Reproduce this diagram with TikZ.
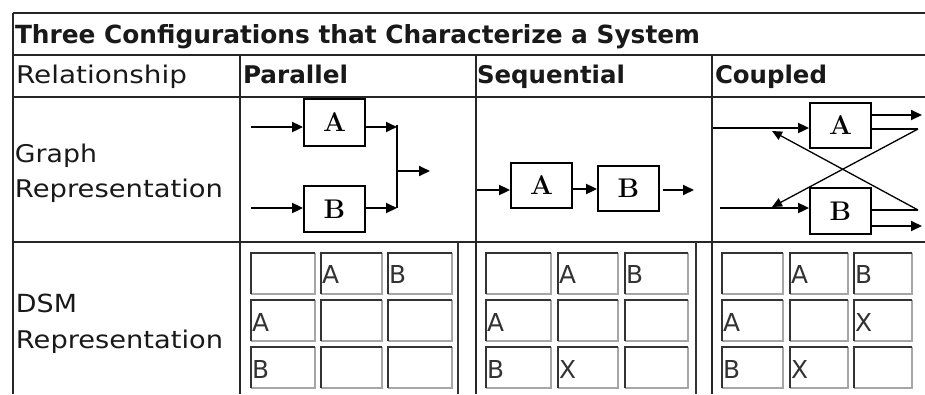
\documentclass[tikz,border=0pt]{standalone}
\usepackage{fontspec}
\usepackage{graphicx}
\newfontfamily\dvs{DejaVu Sans}
\usetikzlibrary{arrows.meta}
\newcommand\fitT[3]{\resizebox{#1pt}{#2pt}{#3}}
\newcommand\boxfont{\fontsize{27}{32}\selectfont\bfseries}
\begin{document}
\begin{tikzpicture}[x=1pt,y=-1pt,
  tline/.style={line width=2.6pt,draw=black!85},
  iline/.style={line width=2pt,draw=black!80},
  lbl/.style={anchor=base west,inner sep=0pt,outer sep=0pt,text=black!90},
  dsmtxt/.style={anchor=base west,inner sep=0pt,outer sep=0pt,text=black!80},
  gbox/.style={draw=black,line width=1.8pt,minimum width=61pt,inner sep=0pt,font=\boxfont},
  gline/.style={line width=1.8pt,draw=black},
  arr/.style={gline,-{Triangle[length=11pt,width=10pt]}},
  darr/.style={line width=1.3pt,draw=black,-{Triangle[length=10pt,width=9pt]}},
  cdark/.style={line width=1.8pt,draw=black!80},
  clight/.style={line width=1.5pt,draw=black!35}]
\useasboundingbox (0,0) rectangle (925,394);
\fill[white] (0,0) rectangle (925,394);

% ---------- table grid ----------
\draw[tline] (13,13) -- (925,13);
\draw[tline] (13,13) -- (13,394);
\draw[tline] (13,55) -- (925,55);
\draw[tline] (13,97) -- (925,97);
\draw[tline] (13,242) -- (925,242);
\draw[tline] (240,55) -- (240,394);
\draw[tline] (476,55) -- (476,394);
\draw[tline] (712,55) -- (712,394);
\draw[iline] (458,242) -- (458,394);
\draw[iline] (696,242) -- (696,394);

% ---------- texts ----------
\node[lbl] (title) at (15,43) {\fitT{685}{19}{\dvs\bfseries Three Configurations that Characterize a System}};
\node[lbl] (rel) at (16,83) {\fitT{171}{18.5}{\dvs Relationship}};
\node[lbl] (par) at (243,83) {\fitT{105}{18.5}{\dvs\bfseries Parallel}};
\node[lbl] (seq) at (477,83) {\fitT{148}{18.5}{\dvs\bfseries Sequential}};
\node[lbl] (cou) at (715,83) {\fitT{112}{18.5}{\dvs\bfseries Coupled}};
\node[lbl] (gr1) at (15,162) {\fitT{82}{18.5}{\dvs Graph}};
\node[lbl] (gr2) at (15,197) {\fitT{208}{18.5}{\dvs Representation}};
\node[lbl] (ds1) at (16,312) {\fitT{61}{18.5}{\dvs DSM}};
\node[lbl] (ds2) at (16,348) {\fitT{207}{18.5}{\dvs Representation}};

% ---------- Parallel graph ----------
\node[gbox,minimum height=47pt] (pA) at (334.5,122.5) {A};
\node[gbox,minimum height=46pt] (pB) at (334.5,209) {B};
\coordinate (pin1) at (251,127);
\coordinate (pin2) at (251,208);
\coordinate (pj1) at (397,127);
\coordinate (pj2) at (397,208);
\coordinate (pjt) at (397,125);
\coordinate (pjm) at (397,171);
\coordinate (pout) at (430,171);
\draw[arr] (pin1) -- (pA.west |- pin1);
\draw[arr] (pin2) -- (pB.west |- pin2);
\draw[arr] (pA.east |- pj1) -- (pj1);
\draw[arr] (pB.east |- pj2) -- (pj2);
\draw[gline] (pjt) -- (pj2);
\draw[arr] (pjm) -- (pout);

% ---------- Sequential graph ----------
\node[gbox,minimum height=45pt] (sA) at (541.5,185.5) {A};
\node[gbox,minimum height=45pt] (sB) at (628.5,188.5) {B};
\coordinate (sin) at (477,190);
\coordinate (sab) at (0,189);
\coordinate (sos) at (663,190);
\coordinate (sout) at (694,190);
\draw[arr] (sin) -- (sA.west |- sin);
\draw[arr] (sA.east |- sab) -- (sB.west |- sab);
\draw[arr] (sos) -- (sout);

% ---------- Coupled graph ----------
\node[gbox,minimum height=45pt] (cA) at (840.5,125.5) {A};
\node[gbox,minimum height=46pt] (cB) at (840.5,211) {B};
\coordinate (cin1) at (713,128);
\coordinate (cin2) at (720,208);
\coordinate (ca1) at (922,115);
\coordinate (ca2) at (918,129);
\coordinate (cb1) at (918,210);
\coordinate (cb2) at (922,226);
\coordinate (cta) at (772,131);
\coordinate (ctb) at (772,207);
\draw[arr] (cin1) -- (cA.west |- cin1);
\draw[arr] (cin2) -- (cB.west |- cin2);
\draw[arr] (cA.east |- ca1) -- (ca1);
\draw[gline] (cA.east |- ca2) -- (ca2);
\draw[darr] (ca2) -- (ctb);
\draw[gline] (cB.east |- cb1) -- (cb1);
\draw[darr] (cb1) -- (cta);
\draw[arr] (cB.east |- cb2) -- (cb2);

% ---------- DSM cells ----------
\foreach \xa/\xb in {251/315,321/382,388/452,486/551,558/618,625/688,722/783,790/848,854/912}
  \foreach \ya/\yb in {253/294,300/341,347/388} {
    \draw[clight] (\xb,\ya) -- (\xb,\yb) -- (\xa,\yb);
    \draw[cdark] (\xa,\yb) -- (\xa,\ya) -- (\xb,\ya);
  }

% Parallel DSM
\node[dsmtxt] (p12) at (322,283) {\fitT{17}{18}{\dvs A}};
\node[dsmtxt] (p13) at (389,283) {\fitT{17}{18}{\dvs B}};
\node[dsmtxt] (p21) at (252,331) {\fitT{17}{18}{\dvs A}};
\node[dsmtxt] (p31) at (252,378) {\fitT{17}{18}{\dvs B}};
% Sequential DSM
\node[dsmtxt] (s12) at (559,283) {\fitT{17}{18}{\dvs A}};
\node[dsmtxt] (s13) at (626,283) {\fitT{17}{18}{\dvs B}};
\node[dsmtxt] (s21) at (487,331) {\fitT{17}{18}{\dvs A}};
\node[dsmtxt] (s31) at (487,378) {\fitT{17}{18}{\dvs B}};
\node[dsmtxt] (s32) at (559,378) {\fitT{17}{18}{\dvs X}};
% Coupled DSM
\node[dsmtxt] (c12) at (791,283) {\fitT{17}{18}{\dvs A}};
\node[dsmtxt] (c13) at (855,283) {\fitT{17}{18}{\dvs B}};
\node[dsmtxt] (c21) at (723,331) {\fitT{17}{18}{\dvs A}};
\node[dsmtxt] (c23) at (855,331) {\fitT{17}{18}{\dvs X}};
\node[dsmtxt] (c31) at (723,378) {\fitT{17}{18}{\dvs B}};
\node[dsmtxt] (c32) at (791,378) {\fitT{17}{18}{\dvs X}};
\end{tikzpicture}
\end{document}
